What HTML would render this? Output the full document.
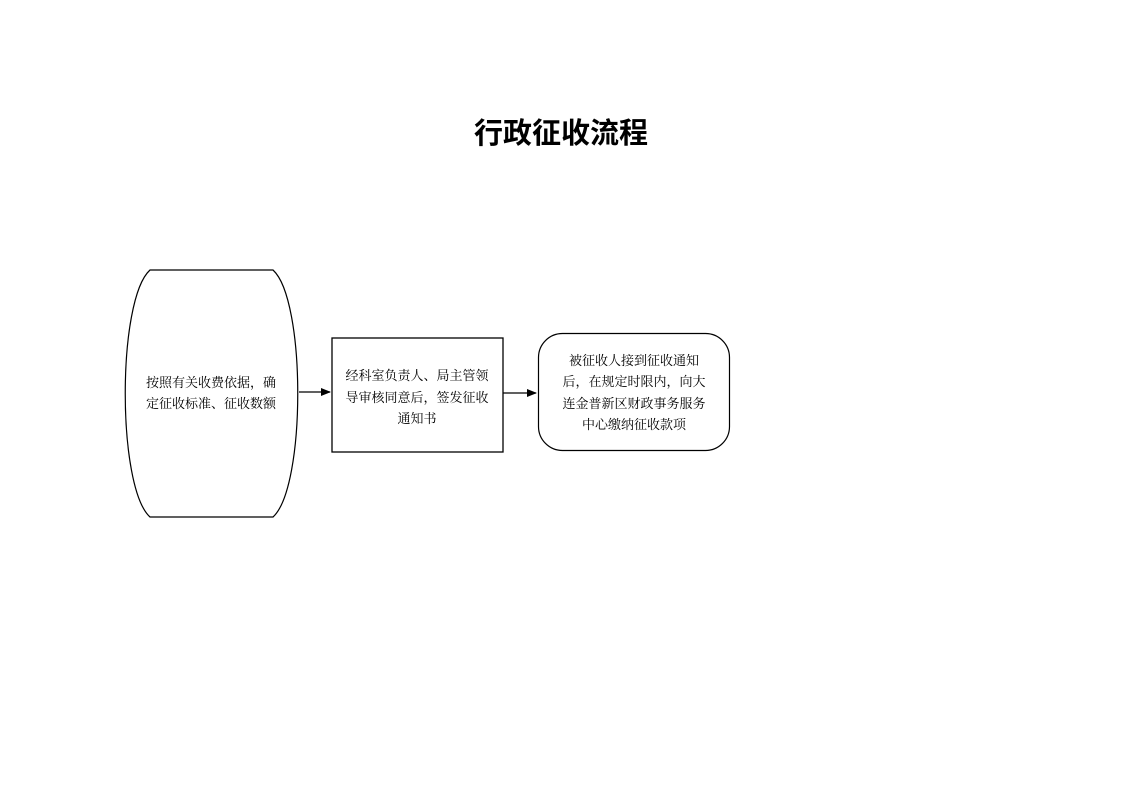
<!DOCTYPE html>
<html><head><meta charset="utf-8"><style>
body{margin:0;width:1122px;height:793px;background:#fff;overflow:hidden;position:relative}
svg{position:absolute;left:0;top:0}
text{font-family:"Liberation Serif","Noto Serif CJK SC",serif;font-size:13px;fill:#000}
.t{font-family:"Liberation Sans","Noto Sans CJK SC",sans-serif;font-size:29px;font-weight:bold}
</style></head><body>
<svg width="1122" height="793" viewBox="0 0 1122 793">
<defs><marker id="a" markerWidth="10" markerHeight="8" refX="9" refY="4" orient="auto" markerUnits="userSpaceOnUse"><path d="M0,0 L10,4 L0,8 z" fill="#000"/></marker></defs>
<text class="t" x="561" y="143" text-anchor="middle">行政征收流程</text>
<path d="M150,270 L273,270 C306,300 306,487 273,517 L150,517 C117,487 117,300 150,270 Z" fill="none" stroke="#000" stroke-width="1.2"/>
<rect x="332" y="338" width="171" height="114" fill="none" stroke="#000" stroke-width="1.3"/>
<rect x="538.5" y="333.5" width="191" height="117" rx="24" fill="none" stroke="#000" stroke-width="1.2"/>
<line x1="299" y1="392" x2="330" y2="392" stroke="#000" stroke-width="1.2" marker-end="url(#a)"/>
<line x1="503" y1="393" x2="536" y2="393" stroke="#000" stroke-width="1.2" marker-end="url(#a)"/>
<g text-anchor="middle">
<text x="211" y="387">按照有关收费依据，确</text>
<text x="211" y="408">定征收标准、征收数额</text>
<text x="417" y="380">经科室负责人、局主管领</text>
<text x="417" y="402">导审核同意后，签发征收</text>
<text x="417" y="423">通知书</text>
<text x="634" y="365">被征收人接到征收通知</text>
<text x="634" y="386">后，在规定时限内，向大</text>
<text x="634" y="408">连金普新区财政事务服务</text>
<text x="634" y="429">中心缴纳征收款项</text>
</g>
</svg>
</body></html>
